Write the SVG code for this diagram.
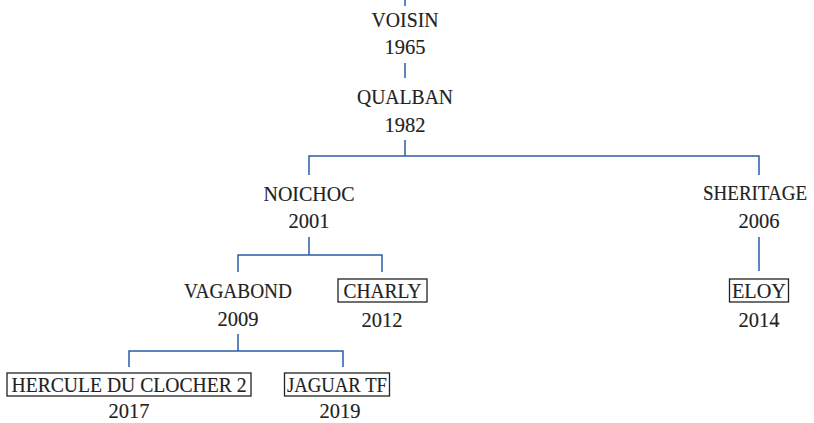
<svg xmlns="http://www.w3.org/2000/svg" width="814" height="423" viewBox="0 0 814 423">
<style>
text{font-family:"Liberation Serif","DejaVu Serif",serif;font-size:22px;fill:#222;text-anchor:middle;stroke:#222;stroke-width:0.15}
.c{fill:none;stroke:#2b5ca6;stroke-width:1.5}
.b{fill:#fff;stroke:#222;stroke-width:1.3}
</style>
<rect width="814" height="423" fill="#fff"/>
<g id="connectors">
<path class="c" d="M405 0V6"/>
<path class="c" d="M405 63V78"/>
<path class="c" d="M405 140V156M309 175V156H759V175"/>
<path class="c" d="M309 237V255M238 272V255H382V272"/>
<path class="c" d="M759 237V271"/>
<path class="c" d="M238 334V351M129 367V351H343V367"/>
</g>
<g id="voisin"><text x="405" y="27" textLength="67" lengthAdjust="spacingAndGlyphs">VOISIN</text><text x="405" y="54" textLength="41" lengthAdjust="spacingAndGlyphs">1965</text></g>
<g id="qualban"><text x="405" y="104" textLength="96" lengthAdjust="spacingAndGlyphs">QUALBAN</text><text x="405" y="132" textLength="41" lengthAdjust="spacingAndGlyphs">1982</text></g>
<g id="noichoc"><text x="309" y="201" textLength="91" lengthAdjust="spacingAndGlyphs">NOICHOC</text><text x="309" y="228" textLength="41" lengthAdjust="spacingAndGlyphs">2001</text></g>
<g id="sheritage"><text x="755" y="200" style="font-size:20.5px" textLength="104" lengthAdjust="spacingAndGlyphs">SHERITAGE</text><text x="759" y="228" textLength="41" lengthAdjust="spacingAndGlyphs">2006</text></g>
<g id="vagabond"><text x="238" y="298" textLength="108" lengthAdjust="spacingAndGlyphs">VAGABOND</text><text x="238" y="326" textLength="41" lengthAdjust="spacingAndGlyphs">2009</text></g>
<g id="charly"><rect class="b" x="338" y="279" width="89" height="23"/><text x="382.5" y="298" textLength="78" lengthAdjust="spacingAndGlyphs">CHARLY</text><text x="382" y="327" textLength="41" lengthAdjust="spacingAndGlyphs">2012</text></g>
<g id="eloy"><rect class="b" x="729.5" y="279" width="59" height="23"/><text x="759" y="298" textLength="54" lengthAdjust="spacingAndGlyphs">ELOY</text><text x="759" y="327" textLength="41" lengthAdjust="spacingAndGlyphs">2014</text></g>
<g id="hercule"><rect class="b" x="7" y="373" width="244" height="23"/><text x="129" y="392" textLength="235" lengthAdjust="spacingAndGlyphs">HERCULE DU CLOCHER 2</text><text x="129" y="418" textLength="41" lengthAdjust="spacingAndGlyphs">2017</text></g>
<g id="jaguar"><rect class="b" x="284.5" y="373" width="105" height="23"/><text x="337" y="392" textLength="100" lengthAdjust="spacingAndGlyphs">JAGUAR TF</text><text x="340" y="418" textLength="41" lengthAdjust="spacingAndGlyphs">2019</text></g>
</svg>
